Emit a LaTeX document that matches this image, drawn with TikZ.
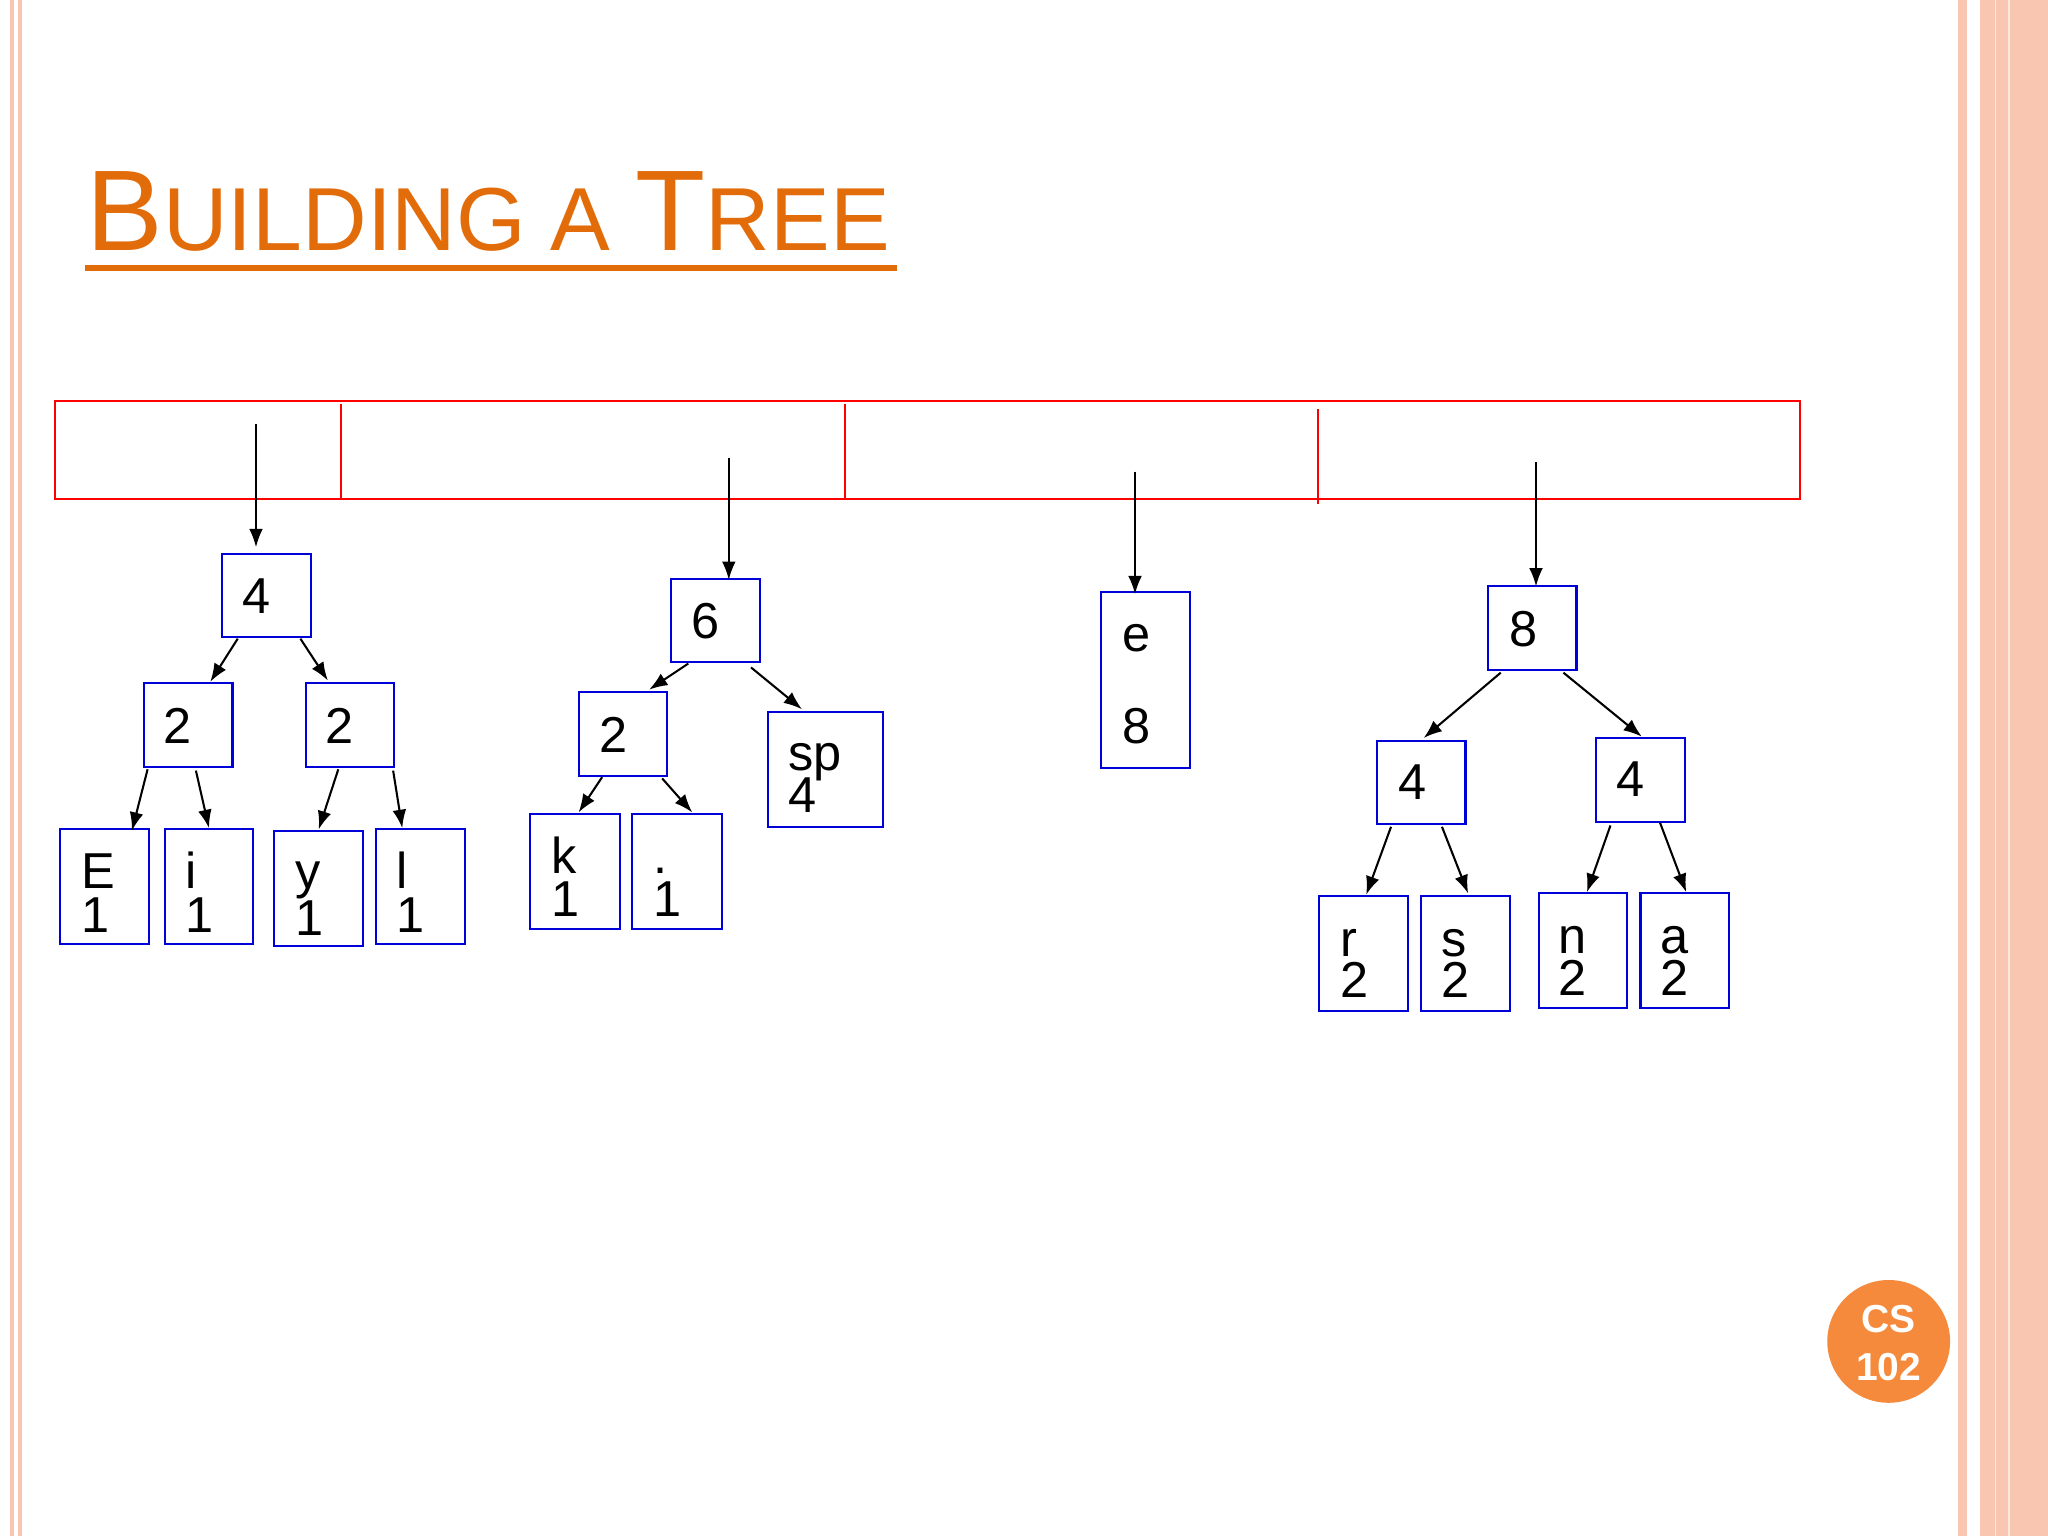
\documentclass[tikz,border=0pt]{standalone}
\usepackage{fontspec}
\setmainfont{Liberation Sans}
\usetikzlibrary{arrows.meta}
\definecolor{ttl}{HTML}{E36C0A}
\definecolor{stripe}{HTML}{F9C6B2}
\definecolor{badge}{HTML}{F58A3C}
\begin{document}
\begin{tikzpicture}[x=0.02cm,y=-0.02cm,
  bx/.style={draw=blue!85!black,line width=0.9pt},
  lbl/.style={anchor=base west,inner sep=0pt,font=\fontsize{22}{22}\selectfont},
  arr/.style={-{Latex[length=8pt,width=6pt]},line width=0.9pt}]
\useasboundingbox (0,0) rectangle (1568,1176);
\fill[white] (0,0) rectangle (1568,1176);
% borders
\fill[stripe] (8,0) rectangle (11,1176);
\fill[stripe] (14,0) rectangle (17,1176);
\fill[stripe] (1499,0) rectangle (1506,1176);
\fill[stripe] (1516,0) rectangle (1568,1176);
\draw[white!60!stripe,line width=0.6pt] (1528,0) -- (1528,1176) (1538,0) -- (1538,1176);
% title
\node[anchor=base west,inner sep=0pt,text=ttl] (title) at (66,192)
 {{\fontsize{50}{50}\selectfont B}{\fontsize{39}{39}\selectfont UILDING A }{\fontsize{50}{50}\selectfont T}{\fontsize{39}{39}\selectfont REE}};
\draw[ttl,line width=2.4pt] (65,205) -- (687,205);
% red bar
\draw[red,line width=0.8pt] (42,307) rectangle (1378,382);
\draw[red,line width=0.8pt] (261,309)--(261,383) (647,309)--(647,383) (1009,313)--(1009,386);
% boxes
\foreach \a/\b/\c/\d in {170/424/238/488,110/523/178/587,234/523/302/587,46/635/114/723,126/635/194/723,210/636/278/724,288/635/356/723,514/443/582/507,443/530/511/594,588/545/676/633,406/623/475/711,484/623/553/711,843/453/911/588,1139/449/1207/513,1054/567/1122/631,1222/565/1290/629,1010/686/1078/774,1088/686/1156/774,1178/684/1246/772,1256/684/1324/772}
  \draw[bx] (\a,\b) rectangle (\c,\d);
% labels
\node[lbl] (t4) at (185,470) {4};
\node[lbl] (t2a) at (125,569) {2};
\node[lbl] (t2b) at (249,569) {2};
\node[lbl] at (62,680) {E}; \node[lbl] at (62,714) {1};
\node[lbl] at (142,680) {i}; \node[lbl] at (142,714) {1};
\node[lbl] at (226,680) {y}; \node[lbl] at (226,716) {1};
\node[lbl] at (303,680) {l}; \node[lbl] at (303,714) {1};
\node[lbl] at (529,489) {6};
\node[lbl] at (459,576) {2};
\node[lbl] at (603,590) {sp}; \node[lbl] at (603,622) {4};
\node[lbl] at (422,669) {k}; \node[lbl] at (422,702) {1};
\node[lbl] at (500,669) {.}; \node[lbl] at (500,702) {1};
\node[lbl] at (859,499) {e}; \node[lbl] at (859,569) {8};
\node[lbl] at (1155,495) {8};
\node[lbl] at (1070,612) {4};
\node[lbl] at (1237,610) {4};
\node[lbl] at (1026,732) {r}; \node[lbl] at (1026,764) {2};
\node[lbl] at (1103,732) {s}; \node[lbl] at (1103,764) {2};
\node[lbl] at (1193,730) {n}; \node[lbl] at (1193,762) {2};
\node[lbl] at (1271,730) {a}; \node[lbl] at (1271,762) {2};
% arrows
\foreach \a/\b/\c/\d in {196/325/196/419,558/351/558/444,869/361/869/455,1176/354/1176/449,
 182/489/161/522,230/489/251/521,113/589/101/636,150/590/160/634,259/589/244/635,301/590/308/634,
 527/508/497/528,575/511/614/543,461/595/443/622,507/596/530/622,
 1149/515/1090/565,1197/515/1257/564,1065/633/1046/685,1104/633/1124/684,1233/632/1215/683,1271/630/1291/683}
  \draw[arr] (\a,\b) -- (\c,\d);
% badge
\fill[badge] (1446,1027) circle (47);
\node[text=white,font=\bfseries\fontsize{17}{17}\selectfont,align=center] (badge) at (1446,1028) {CS\\[4pt]102};
\end{tikzpicture}
\end{document}
